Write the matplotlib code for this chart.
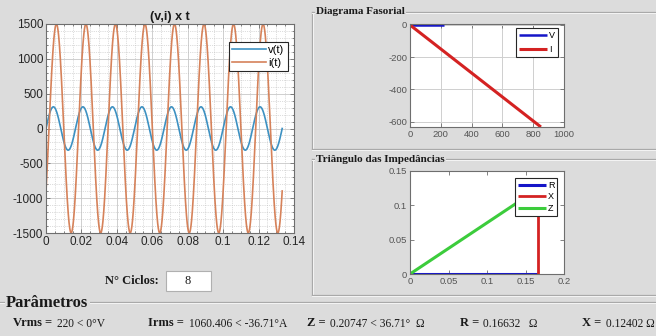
"""Recreation of a MATLAB GUI screenshot: v/i waveforms, phasor diagram and impedance triangle."""

import numpy as np
import matplotlib
matplotlib.use("Agg")
import matplotlib.pyplot as plt
from matplotlib.lines import Line2D
from matplotlib.ticker import MultipleLocator

plt.rcParams["axes.unicode_minus"] = False

# circuit parameters (as shown in the "Parâmetros" panel)
vrms = 220.0
v_angle = 0.0
irms = 1060.406
i_angle = -36.71
z_mag = 0.20747
z_angle = 36.71
r_val = 0.16632
x_val = 0.12402
freq = 60.0
n_cycles = 8

# waveforms
t = np.linspace(0, n_cycles / freq, 1200)
w = 2 * np.pi * freq
v_t = vrms * np.sqrt(2) * np.sin(w * t + np.radians(v_angle))
i_t = irms * np.sqrt(2) * np.sin(w * t + np.radians(i_angle))

# phasors (origin -> tip)
v_re = [0, vrms * np.cos(np.radians(v_angle))]
v_im = [0, vrms * np.sin(np.radians(v_angle))]
i_re = [0, irms * np.cos(np.radians(i_angle))]
i_im = [0, irms * np.sin(np.radians(i_angle))]

# impedance triangle
r_x, r_y = [0, r_val], [0, 0]
x_x, x_y = [r_val, r_val], [0, x_val]
z_x, z_y = [0, r_val], [0, x_val]

W, H = 656, 336
BG = "#dcdcdc"
SANS = "Liberation Sans"
SERIF = "Liberation Serif"


def box(x0, y0, x1, y1):
    return [x0 / W, 1 - y1 / H, (x1 - x0) / W, (y1 - y0) / H]


def hline(fig, x0, x1, y):
    fig.add_artist(Line2D([x0 / W, x1 / W], [1 - y / H] * 2, transform=fig.transFigure,
                          color="#a9a9a9", lw=0.9))
    fig.add_artist(Line2D([x0 / W, x1 / W], [1 - (y + 1) / H] * 2, transform=fig.transFigure,
                          color="#f4f4f4", lw=0.7))


def vline(fig, x, y0, y1):
    fig.add_artist(Line2D([x / W] * 2, [1 - y0 / H, 1 - y1 / H], transform=fig.transFigure,
                          color="#a9a9a9", lw=0.9))
    fig.add_artist(Line2D([(x + 1) / W] * 2, [1 - y0 / H, 1 - y1 / H], transform=fig.transFigure,
                          color="#f4f4f4", lw=0.7))


def ftext(fig, x, y, s, **kw):
    return fig.text(x / W, 1 - y / H, s, va="center", ha="left", **kw)


def style_axes(ax, size, labelcolor):
    ax.set_facecolor("white")
    for sp in ax.spines.values():
        sp.set_color("#6e6e6e")
        sp.set_linewidth(0.8)
    ax.tick_params(direction="in", top=True, right=True, length=3, width=0.6,
                   color="#6e6e6e", labelsize=size, labelcolor=labelcolor, pad=2)
    for lbl in ax.get_xticklabels() + ax.get_yticklabels():
        lbl.set_fontfamily(SANS)


def matlab_legend(ax, size, hl, anchor, spacing):
    leg = ax.legend(loc="upper right", bbox_to_anchor=anchor, fontsize=size,
                    handlelength=hl, fancybox=False, framealpha=1, edgecolor="#262626",
                    borderpad=0.3, labelspacing=spacing, handletextpad=0.25,
                    borderaxespad=0, prop={"family": SANS, "size": size})
    leg.get_frame().set_linewidth(0.8)
    return leg


fig = plt.figure(figsize=(W / 100, H / 100), dpi=100, facecolor=BG)

# ---- main waveform plot
ax = fig.add_axes(box(46, 24, 294, 233))
ax.plot(t, v_t, color="#3d91c2", lw=1.2, label="v(t)")
ax.plot(t, i_t, color="#d6825a", lw=1.2, label="i(t)")
ax.set_xlim(0, 0.14)
ax.set_ylim(-1500, 1500)
ax.yaxis.set_major_locator(MultipleLocator(500))
ax.xaxis.set_minor_locator(MultipleLocator(0.005))
ax.yaxis.set_minor_locator(MultipleLocator(100))
ax.set_xticks(np.arange(0, 0.141, 0.02))
ax.set_xticklabels(["0", "0.02", "0.04", "0.06", "0.08", "0.1", "0.12", "0.14"])
ax.grid(True, which="major", color="#c8c8c8", lw=0.6)
ax.grid(True, which="minor", color="#bdbdbd", lw=0.5, ls=":")
ax.set_axisbelow(True)
style_axes(ax, 8.5, "#262626")
ax.tick_params(which="minor", length=1.5, top=True, right=True, direction="in", color="#6e6e6e")
ax.set_title("(v,i) x t", fontsize=9, fontweight="bold", family=SANS, color="#1a1a1a", pad=3)
matlab_legend(ax, 8, 3.0, (0.976, 0.914), 0.25)

# ---- panels
vline(fig, 312, 12, 149)
hline(fig, 312, 656, 12)
hline(fig, 312, 656, 149)
vline(fig, 312, 159, 295)
hline(fig, 312, 656, 159)
hline(fig, 312, 656, 295)
hline(fig, 0, 656, 302)

panel_title = dict(fontweight="bold", family=SERIF, color="#1a1a1a",
                   bbox=dict(facecolor=BG, edgecolor="none", pad=1))
ftext(fig, 316, 12, "Diagrama Fasorial", fontsize=8, **panel_title)
ftext(fig, 316, 159, "Triângulo das Impedâncias", fontsize=8, **panel_title)
ftext(fig, 6, 303, "Parâmetros", fontsize=12, **panel_title)

# ---- phasor diagram
axf = fig.add_axes(box(410, 24, 564, 127))
axf.plot(v_re, v_im, color="#1515c8", lw=1.8, label="V", solid_capstyle="butt")
axf.plot(i_re, i_im, color="#d42222", lw=2.2, label="I", solid_capstyle="butt")
axf.set_xlim(0, 1000)
axf.set_ylim(-634, 6)
axf.set_xticks([0, 200, 400, 600, 800, 1000])
axf.set_yticks([0, -200, -400, -600])
axf.grid(True, color="#cfcfcf", lw=0.7)
axf.set_axisbelow(True)
style_axes(axf, 6.8, "#555555")
matlab_legend(axf, 6.5, 3.1, (0.961, 0.961), 0.6)

# ---- impedance triangle
axt = fig.add_axes(box(410, 171, 564, 274))
axt.plot(r_x, r_y, color="#1515c8", lw=2.2, label="R", solid_capstyle="butt")
axt.plot(x_x, x_y, color="#d42222", lw=2.0, label="X", solid_capstyle="butt")
axt.plot(z_x, z_y, color="#3ccc3c", lw=2.2, label="Z", solid_capstyle="butt")
axt.set_xlim(0, 0.2)
axt.set_ylim(0, 0.15)
axt.set_xticks([0, 0.05, 0.1, 0.15, 0.2])
axt.set_xticklabels(["0", "0.05", "0.1", "0.15", "0.2"])
axt.set_yticks([0, 0.05, 0.1, 0.15])
axt.set_yticklabels(["0", "0.05", "0.1", "0.15"])
style_axes(axt, 6.8, "#555555")
matlab_legend(axt, 6.5, 3.1, (0.955, 0.932), 0.3)

# ---- cycles input
ftext(fig, 105, 281, "N° Ciclos:", fontsize=9, fontweight="bold", family=SERIF, color="#1a1a1a")
fig.add_artist(plt.Rectangle((166 / W, 1 - 291 / H), 45 / W, 20 / H, transform=fig.transFigure,
                             facecolor="white", edgecolor="#b0b0b0", lw=0.8))
fig.text(188 / W, 1 - 281 / H, str(n_cycles), ha="center", va="center", fontsize=9,
         family=SERIF, color="#1a1a1a")

# ---- parameter readouts
bold = dict(fontsize=9, fontweight="bold", family=SERIF, color="#1a1a1a")
norm = dict(fontsize=8.3, family=SERIF, color="#1a1a1a")
ftext(fig, 13, 323, "Vrms =", **bold)
ftext(fig, 57, 324, f"{vrms:g} < {v_angle:g}°V", **norm)
ftext(fig, 148, 323, "Irms =", **bold)
ftext(fig, 189, 324, f"{irms:.3f} < {i_angle:.2f}°A", **norm)
ftext(fig, 307, 323, "Z =", **bold)
ftext(fig, 330, 324, f"{z_mag:.5f} < {z_angle:.2f}°  Ω", **norm)
ftext(fig, 460, 323, "R =", **bold)
ftext(fig, 483, 324, f"{r_val:.5f}   Ω", **norm)
ftext(fig, 582, 323, "X =", **bold)
ftext(fig, 606, 324, f"{x_val:.5f} Ω", **norm)

fig.savefig("out.png", dpi=100, facecolor=BG)
